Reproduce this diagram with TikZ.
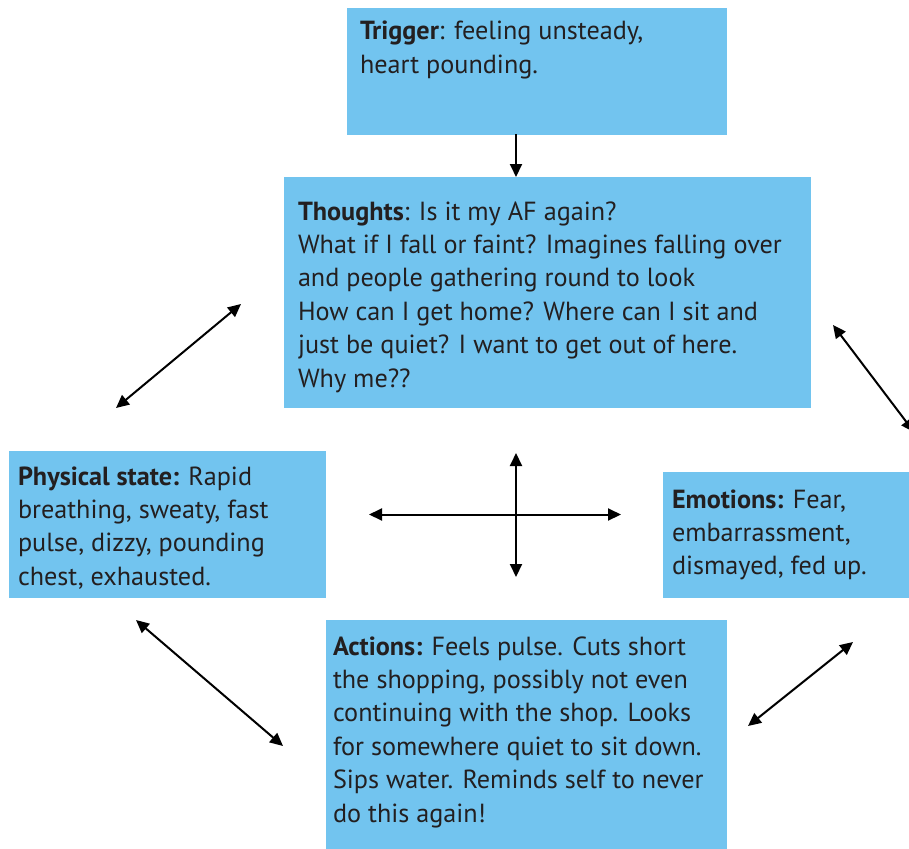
\documentclass[tikz,border=0pt]{standalone}
\usepackage{fontspec}
\setmainfont{PT Sans}
\usetikzlibrary{arrows.meta}
\definecolor{boxblue}{RGB}{114,196,239}
\definecolor{ink}{RGB}{35,31,32}
\begin{document}
\begin{tikzpicture}[x=1pt,y=-1pt,
  box/.style={fill=boxblue, draw=none, inner sep=0pt, outer sep=0pt},
  txt/.style={anchor=base west, inner sep=0pt, outer sep=0pt, text=ink,
    font=\fontsize{26.2}{33.4}\selectfont},
  tip/.tip={Triangle[length=13pt,width=12pt]},
  link/.style={line width=2pt, draw=black}]
\useasboundingbox (0,0) rectangle (909,848);
\clip (0,0) rectangle (909,848);
% boxes
\node[box, minimum width=380pt, minimum height=127pt] (trigger) at (537,71.5) {};
\node[box, minimum width=527pt, minimum height=231pt] (thoughts) at (547.5,292.5) {};
\node[box, minimum width=317pt, minimum height=147pt] (physical) at (167.5,524.5) {};
\node[box, minimum width=250pt, minimum height=126pt] (emotions) at (788,535) {};
\node[box, minimum width=401pt, minimum height=232pt] (actions) at (526.5,736) {};
% texts
\node[txt] (triggertext) at (360,40) {\parbox[t]{600pt}{\textbf{Trigger}: feeling unsteady,\\heart pounding.}};
\node[txt] (thoughtstext) at (298,220) {\parbox[t]{600pt}{\textbf{Thoughts}: Is it my AF again?\\What if I fall or faint? Imagines falling over\\and people gathering round to look\\How can I get home? Where can I sit and\\just be quiet? I want to get out of here.\\Why me??}};
\node[txt] (physicaltext) at (18,485) {\parbox[t]{600pt}{\textbf{Physical state:} Rapid\\breathing, sweaty, fast\\pulse, dizzy, pounding\\chest, exhausted.}};
\node[txt] (emotionstext) at (672,508) {\parbox[t]{600pt}{\textbf{Emotions:} Fear,\\embarrassment,\\dismayed, fed up.}};
\node[txt] (actionstext) at (333,655) {\parbox[t]{600pt}{\textbf{Actions:} Feels pulse. Cuts short\\the shopping, possibly not even\\continuing with the shop. Looks\\for somewhere quiet to sit down.\\Sips water. Reminds self to never\\do this again!}};
% arrow end points
\coordinate (a1) at (516,134);
\coordinate (a2) at (516,177);
\coordinate (l1) at (116,408);
\coordinate (l2) at (241,304);
\coordinate (r1) at (833,325);
\coordinate (r2) at (914,432);
\coordinate (h1) at (369,514.5);
\coordinate (h2) at (621,514.5);
\coordinate (v1) at (516,453);
\coordinate (v2) at (516,577);
\coordinate (bl1) at (136,620);
\coordinate (bl2) at (283,746);
\coordinate (br1) at (853,642);
\coordinate (br2) at (748,726);
% connectors
\draw[link, -{tip}] (a1) -- (a2);
\draw[link, {tip}-{tip}] (l1) -- (l2);
\draw[link, {tip}-{tip}] (r1) -- (r2);
\draw[link, {tip}-{tip}] (h1) -- (h2);
\draw[link, {tip}-{tip}] (v1) -- (v2);
\draw[link, {tip}-{tip}] (bl1) -- (bl2);
\draw[link, {tip}-{tip}] (br1) -- (br2);
\end{tikzpicture}
\end{document}
